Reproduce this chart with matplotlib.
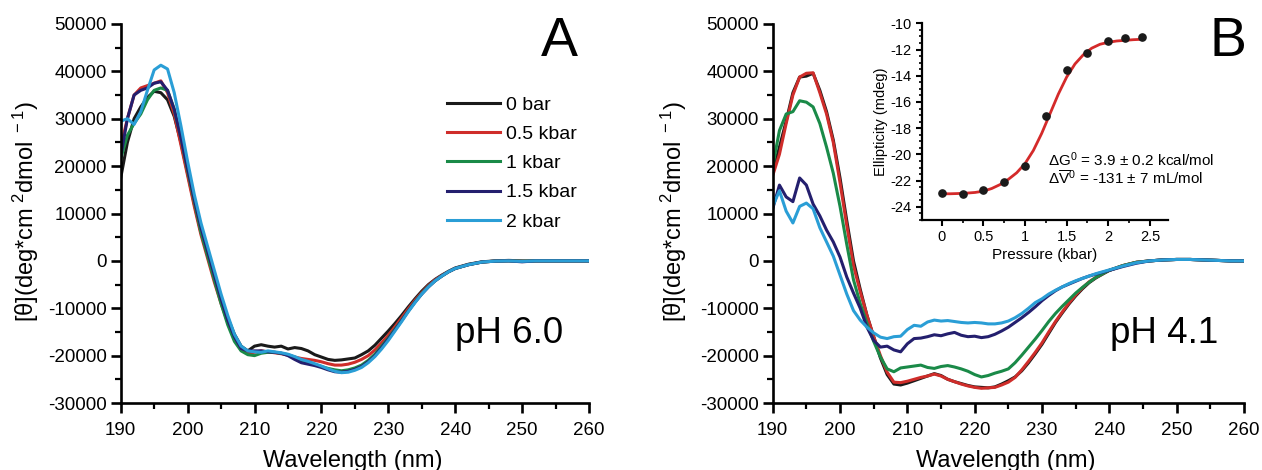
import matplotlib
matplotlib.use("Agg")
import matplotlib.pyplot as plt
from matplotlib.ticker import MultipleLocator
import numpy as np

plt.rcParams['font.family'] = ['Liberation Sans', 'DejaVu Sans']
plt.rcParams['mathtext.fontset'] = 'custom'
plt.rcParams['mathtext.rm'] = 'Liberation Sans'
plt.rcParams['mathtext.default'] = 'regular'
plt.rcParams['axes.unicode_minus'] = False

# wavelength grid (nm)
wavelength = list(range(190, 241)) + list(range(242, 261, 2))

labels = ['0 bar', '0.5 kbar', '1 kbar', '1.5 kbar', '2 kbar']
colors = ['#1a1a1a', '#cf2d2a', '#1a8a48', '#241f6e', '#2a9ed6']

# panel A, pH 6.0
a_0bar = [17500, 25000, 30000, 32500, 34500, 35800, 35500, 34000, 30500, 25000,
          18500, 12000, 6000, 1500, -3500, -8000, -12000, -15500, -18000, -19000,
          -18000, -17700, -18000, -18200, -18000, -18600, -18300, -18500, -19000, -19800,
          -20300, -20800, -21000, -20900, -20700, -20500, -19800, -19000, -17800, -16300,
          -14800, -13200, -11500, -9700, -8000, -6400, -5000, -3900, -3000, -2200,
          -1500, -700, -200, 0, 100, 0, 0, 0, 0, 0, 0]
a_05kbar = [24000, 30000, 35000, 36500, 37000, 37500, 38000, 35500, 31000, 24500,
            18000, 11500, 5500, 500, -4500, -9000, -13000, -16500, -18800, -19500,
            -19300, -19000, -19200, -19400, -19600, -19900, -20300, -20600, -20800, -21000,
            -21300, -21700, -22000, -22000, -21800, -21400, -20800, -20000, -18800, -17300,
            -15700, -13900, -12000, -10100, -8300, -6700, -5200, -4000, -3100, -2300,
            -1600, -800, -250, -50, 0, -100, 0, 0, 0, 0, 0]
a_1kbar = [21500, 26500, 29000, 31000, 34000, 36000, 36500, 36000, 32000, 26000,
           19000, 12500, 6000, 1000, -4000, -9000, -13500, -17000, -19000, -19800,
           -20000, -19500, -19300, -19300, -19500, -19800, -20300, -21000, -21500, -21900,
           -22300, -22700, -23000, -23200, -23000, -22600, -22000, -21000, -19700, -18000,
           -16300, -14400, -12500, -10500, -8600, -6900, -5400, -4200, -3200, -2300,
           -1600, -800, -250, -50, 0, -100, 0, 0, 0, 0, 0]
a_15kbar = [22000, 30000, 35000, 36000, 36500, 37500, 37800, 36000, 32000, 26000,
            19500, 13000, 7000, 2000, -3000, -8000, -12500, -16000, -18500, -19000,
            -19000, -19000, -19200, -19300, -19500, -20000, -20800, -21500, -21800, -22100,
            -22500, -23000, -23400, -23500, -23300, -22900, -22300, -21300, -20000, -18300,
            -16500, -14600, -12600, -10600, -8700, -7000, -5500, -4200, -3200, -2300,
            -1600, -800, -250, -50, 0, -200, 0, 0, 0, 0, 0]
a_2kbar = [29500, 30000, 28800, 31500, 36000, 40300, 41300, 40500, 35500, 28500,
           21000, 14000, 8000, 3000, -2000, -7000, -11500, -15500, -18000, -19000,
           -19200, -19300, -19000, -19200, -19400, -19700, -20200, -20800, -21200, -21700,
           -22200, -22800, -23300, -23600, -23500, -23100, -22500, -21500, -20200, -18600,
           -16800, -14800, -12800, -10700, -8800, -7000, -5500, -4200, -3200, -2300,
           -1600, -800, -250, -50, 0, -100, 0, 0, 0, 0, 0]

# panel B, pH 4.1
b_0bar = [18500, 24000, 29500, 35500, 38800, 39000, 39600, 36000, 31500, 25500,
          17500, 8500, 0, -6000, -11500, -16000, -20500, -24000, -26000, -26200,
          -25800, -25300, -24800, -24300, -23800, -24200, -25000, -25500, -25900, -26300,
          -26600, -26700, -26800, -26600, -26000, -25300, -24500, -23200, -21500, -19600,
          -17600, -15300, -13000, -11000, -9100, -7400, -5900, -4600, -3600, -2800,
          -2000, -1000, -300, 0, 200, 300, 300, 200, 100, 0, 0]
b_05kbar = [18000, 22500, 29000, 35000, 38800, 39600, 39700, 35500, 31000, 25000,
            16500, 7500, -1000, -6500, -11500, -16000, -20000, -23500, -25600, -25700,
            -25400, -25000, -24600, -24300, -23900, -24300, -25000, -25500, -26000, -26400,
            -26700, -26900, -26800, -26700, -26200, -25600, -24600, -23000, -21200, -19300,
            -17300, -15000, -12800, -10800, -8900, -7200, -5700, -4400, -3500, -2700,
            -2000, -1000, -300, 0, 200, 300, 300, 200, 100, 0, 0]
b_1kbar = [20000, 27500, 31000, 31500, 33800, 33500, 32500, 29000, 24000, 18500,
           11500, 3500, -4000, -9000, -13200, -17000, -20300, -22800, -23400, -22600,
           -22400, -22200, -22000, -22500, -22700, -22300, -22100, -22400, -22800, -23300,
           -24000, -24500, -24200, -23700, -23300, -22800, -21500, -19900, -18200, -16500,
           -14700, -12800, -11100, -9600, -8200, -6800, -5600, -4500, -3500, -2700,
           -2000, -1000, -300, 0, 200, 300, 300, 200, 100, 0, 0]
b_15kbar = [11000, 16000, 13500, 12500, 17500, 16000, 12000, 9500, 6500, 4000,
            800, -3400, -6800, -10000, -14000, -16800, -18200, -18000, -18800, -19200,
            -17500, -16400, -16300, -16000, -15600, -15800, -15400, -15100, -15700, -16000,
            -15900, -16200, -16000, -15500, -14800, -14000, -13000, -12000, -10900, -9700,
            -8400, -7300, -6300, -5500, -4900, -4300, -3700, -3200, -2800, -2400,
            -2000, -1200, -500, 0, 200, 300, 300, 200, 100, 0, 0]
b_2kbar = [11500, 14800, 10500, 8000, 11500, 12200, 11000, 7000, 4000, 1000,
           -3000, -7000, -10500, -12500, -14000, -15200, -16100, -16400, -16000, -15900,
           -14500, -13600, -13800, -12900, -12500, -12700, -12600, -12800, -13000, -13100,
           -13000, -13100, -13300, -13300, -13100, -12700, -12000, -11100, -10000, -8800,
           -8000, -7000, -6200, -5500, -4800, -4200, -3700, -3200, -2700, -2300,
           -1900, -1100, -400, 0, 200, 300, 300, 200, 100, 0, 0]

# inset: ellipticity vs pressure
pressure = [0, 0.25, 0.5, 0.75, 1.0, 1.25, 1.5, 1.75, 2.0, 2.2, 2.4]
ellipticity = [-22.93, -23.05, -22.72, -22.09, -20.87, -17.07, -13.56, -12.29, -11.32, -11.15, -11.07]
fit_pressure = [0, 0.1, 0.2, 0.3, 0.4, 0.5, 0.6, 0.7, 0.8, 0.9, 1.0, 1.1, 1.2,
                1.3, 1.4, 1.5, 1.6, 1.7, 1.8, 1.9, 2.0, 2.1, 2.2, 2.3, 2.4]
fit_ellipticity = [-23.0, -23.0, -22.98, -22.95, -22.9, -22.8, -22.6, -22.3, -21.9, -21.4,
                   -20.7, -19.7, -18.4, -16.9, -15.4, -14.1, -13.1, -12.4, -11.9, -11.6,
                   -11.45, -11.35, -11.3, -11.25, -11.22]

W, H = 1262, 470
fig = plt.figure(figsize=(W / 100, H / 100), dpi=100)


def px_axes(x0, y0, x1, y1):
    return fig.add_axes([x0 / W, 1 - y1 / H, (x1 - x0) / W, (y1 - y0) / H])


def style_main(ax):
    ax.set_xlim(190, 260)
    ax.set_ylim(-30000, 50000)
    ax.xaxis.set_major_locator(MultipleLocator(10))
    ax.xaxis.set_minor_locator(MultipleLocator(5))
    ax.yaxis.set_major_locator(MultipleLocator(10000))
    ax.yaxis.set_minor_locator(MultipleLocator(5000))
    for s in ['top', 'right']:
        ax.spines[s].set_visible(False)
    for s in ['left', 'bottom']:
        ax.spines[s].set_linewidth(1.9)
    ax.tick_params(which='major', direction='out', length=7, width=1.9, labelsize=13.5)
    ax.tick_params(axis='x', which='major', pad=7)
    ax.tick_params(axis='y', which='major', pad=3)
    ax.tick_params(which='minor', direction='out', length=4.5, width=1.6)


axA = px_axes(120.7, 24, 589, 403)
axB = px_axes(772.7, 24, 1244, 403)

for series, lab, col in zip([a_0bar, a_05kbar, a_1kbar, a_15kbar, a_2kbar], labels, colors):
    axA.plot(wavelength, series, color=col, lw=2.2, label=lab)
for series, col in zip([b_0bar, b_05kbar, b_1kbar, b_15kbar, b_2kbar], colors):
    axB.plot(wavelength, series, color=col, lw=2.2)

style_main(axA)
style_main(axB)

axA.legend(loc='upper left', bbox_to_anchor=(447 / W, 1 - 96 / H), bbox_transform=fig.transFigure,
           frameon=False, fontsize=14, handlelength=2.75, handletextpad=0.3,
           labelspacing=0.6, borderpad=0, borderaxespad=0)

ylab = r'[θ](deg*cm$^{\ 2}$dmol$^{\ -1}$)'
fig.text(26 / W, 1 - 212 / H, ylab, rotation=90, ha='center', va='center', fontsize=17)
fig.text(674 / W, 1 - 212 / H, ylab, rotation=90, ha='center', va='center', fontsize=17)
fig.text(353 / W, 1 - 467 / H, 'Wavelength (nm)', ha='center', va='baseline', fontsize=17)
fig.text(1006 / W, 1 - 467 / H, 'Wavelength (nm)', ha='center', va='baseline', fontsize=17)

fig.text(559 / W, 1 - 56 / H, 'A', ha='center', va='baseline', fontsize=40)
fig.text(1228 / W, 1 - 56 / H, 'B', ha='center', va='baseline', fontsize=40)
fig.text(455 / W, 1 - 343 / H, 'pH 6.0', ha='left', va='baseline', fontsize=26.5)
fig.text(1110 / W, 1 - 343 / H, 'pH 4.1', ha='left', va='baseline', fontsize=26.5)

# inset
axI = px_axes(921.7, 23.3, 1168.3, 220)
axI.plot(fit_pressure, fit_ellipticity, color='#d42a2a', lw=2.0, zorder=2)
axI.plot(pressure, ellipticity, 'o', color='#1a1a1a', ms=5.2, zorder=3)
axI.set_xlim(-0.24, 2.72)
axI.set_ylim(-25, -10)
axI.xaxis.set_minor_locator(MultipleLocator(0.25))
axI.yaxis.set_minor_locator(MultipleLocator(0.5))
axI.set_yticks(np.arange(-24, -9, 2))
axI.set_xticks([0, 0.5, 1, 1.5, 2, 2.5])
axI.set_xticklabels(['0', '0.5', '1', '1.5', '2', '2.5'])
for s in ['top', 'right']:
    axI.spines[s].set_visible(False)
for s in ['left', 'bottom']:
    axI.spines[s].set_linewidth(1.6)
axI.tick_params(which='major', direction='out', length=4, width=1.5, labelsize=10.5, pad=3)
axI.tick_params(which='minor', direction='out', length=2.5, width=1.2)
axI.set_xlabel('Pressure (kbar)', fontsize=11, labelpad=3)
axI.set_ylabel('Ellipticity (mdeg)', fontsize=10.5, labelpad=2)
axI.text(1.28, -20.9, r'$\Delta$G$^{0}$ = 3.9 ± 0.2 kcal/mol', fontsize=11, va='baseline')
axI.text(1.28, -22.3, r'$\Delta\overline{V}^{0}$ = -131 ± 7 mL/mol', fontsize=11, va='baseline')

fig.savefig('out.png', dpi=100)
